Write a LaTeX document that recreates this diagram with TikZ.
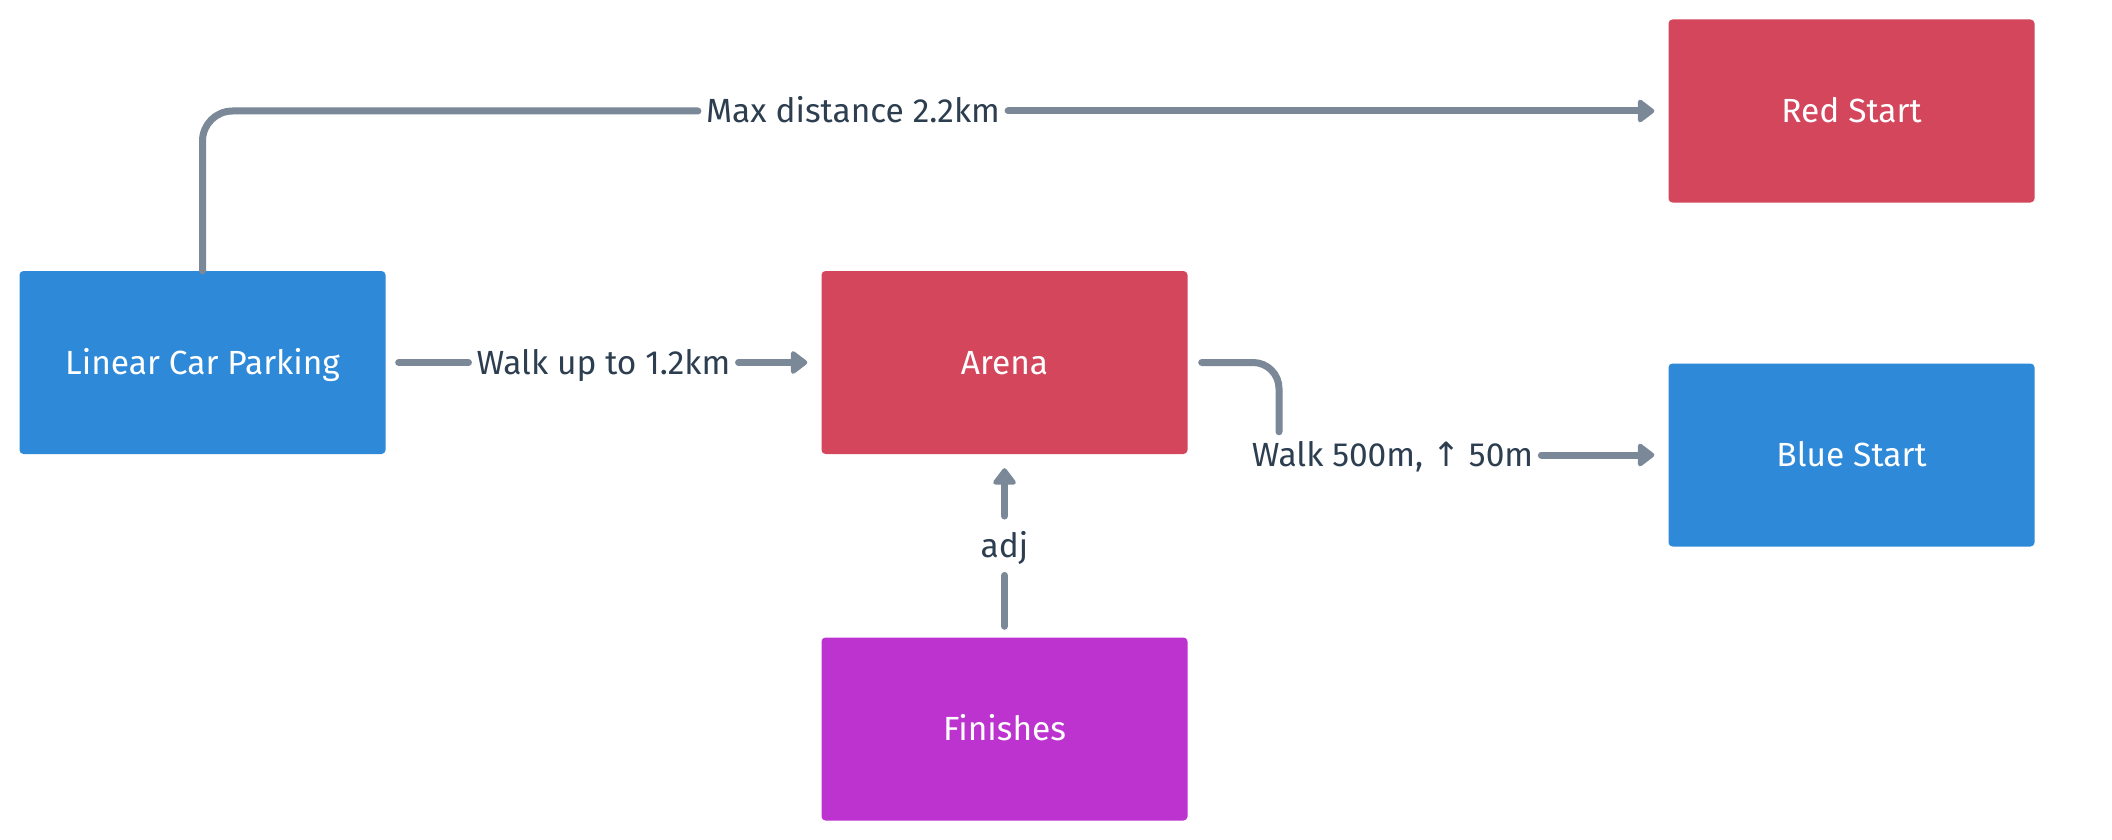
\documentclass[tikz,border=0pt]{standalone}
\usepackage{fontspec}
\setmainfont{Fira Sans}
\newfontfamily\symfont{DejaVu Sans}
\usetikzlibrary{arrows.meta,calc,backgrounds}
\definecolor{boxblue}{HTML}{2E89D8}
\definecolor{boxred}{HTML}{D3465C}
\definecolor{boxpurple}{HTML}{BD33CF}
\definecolor{linegray}{HTML}{7A8898}
\definecolor{labeltext}{HTML}{2C3E50}
\newcommand{\softshade}[1]{%
  \begin{scope}[on background layer]
  \foreach \r in {1,3,...,19} {
    \fill[black, opacity=0.009, rounded corners=4pt+\r pt]
      ([xshift=-\r pt, yshift=\r pt-5pt]#1.north west) rectangle
      ([xshift=\r pt, yshift=-\r pt-5pt]#1.south east);
  }
  \end{scope}}
\begin{document}
\begin{tikzpicture}[x=1pt,y=-1pt,
  box/.style={rectangle, rounded corners=4pt, minimum width=366pt, minimum height=183pt,
    inner sep=0pt, text=white, font=\fontsize{33.5}{40}\selectfont, text height=23pt, text depth=0pt},
  conn/.style={draw=linegray, line width=7pt, line cap=round, line join=round},
  arr/.style={-{Triangle[length=18pt,width=26pt,round]}, shorten >=14pt},
  lbl/.style={text=labeltext, font=\fontsize{33.5}{40}\selectfont, inner xsep=8pt, inner ysep=4.5pt,
    text height=30pt, text depth=7pt}]
\useasboundingbox (0,0) rectangle (2112,840);

\node[box, fill=boxblue] (lin) at (202.5,362.5) {Linear Car Parking};
\node[box, fill=boxred] (arena) at (1004.5,362.5) {Arena};
\node[box, fill=boxred] (red) at (1851.5,111) {Red Start};
\node[box, fill=boxblue] (blue) at (1851.5,455) {Blue Start};
\node[box, fill=boxpurple] (fin) at (1004.5,729) {Finishes};
\softshade{lin}\softshade{arena}\softshade{red}\softshade{blue}\softshade{fin}
\begin{scope}[on background layer]
\fill[white] (0,0) rectangle (2112,840);
\end{scope}

\node[lbl] (l1) at ($(lin.east)!0.5!(arena.west)$) {Walk up to 1.2km};
\node[lbl] (l2) at (853,111) {Max distance 2.2km};
\node[lbl] (l3) at (1392.5,455) {Walk 500m, {\symfont ↑} 50m};
\node[lbl, inner ysep=11pt] (l4) at ($(fin.north)!0.5!(arena.south)$) {adj};

\draw[conn, shorten <=13pt] (lin.east) -- (l1.west);
\draw[conn, arr] (l1.east) -- (arena.west);

\draw[conn, rounded corners=30pt] (lin.north) |- (l2.west);
\draw[conn, arr] (l2.east) -- (red.west);

\coordinate (k) at (1279,362.5);
\draw[conn, rounded corners=26pt, shorten <=14pt] (arena.east) -- (k) -- (k |- l3.north);
\draw[conn, arr] (l3.east) -- (blue.west);

\draw[conn, shorten <=11pt] (fin.north) -- (l4.south);
\draw[conn, arr] (l4.north) -- (arena.south);
\end{tikzpicture}
\end{document}
